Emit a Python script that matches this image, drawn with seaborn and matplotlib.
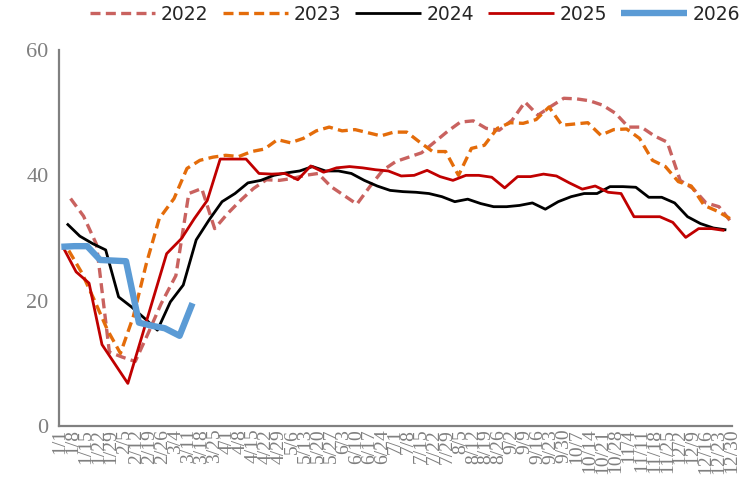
import matplotlib
matplotlib.use("Agg")
import matplotlib.pyplot as plt
import seaborn as sns
import pandas as pd

# Weekly (Friday) readings for each year
start_2022 = "2022-01-07"
vals_2022 = [36.3, 33.5, 29.0, 11.8, 11.0, 10.3, 14.8, 19.5, 24.0, 37.1, 37.9, 31.5,
             33.9, 36.0, 37.9, 39.3, 39.2, 39.5, 40.0, 40.3, 38.2, 36.8, 35.4, 38.2,
             40.8, 42.2, 42.9, 43.6, 45.3, 47.0, 48.5, 48.7, 47.5, 47.2, 48.8, 51.7,
             49.6, 51.0, 52.3, 52.2, 51.9, 51.2, 49.9, 47.7, 47.7, 46.3, 45.3, 39.2,
             37.9, 35.6, 35.0, 32.4]

start_2023 = "2023-01-06"
vals_2023 = [28.0, 24.5, 20.0, 15.3, 11.6, 17.5, 25.9, 33.1, 36.3, 41.1, 42.4, 42.9,
             43.2, 43.0, 43.8, 44.2, 45.7, 45.2, 45.9, 47.1, 47.7, 47.1, 47.3, 46.8,
             46.3, 46.9, 46.9, 45.3, 43.8, 43.8, 40.0, 44.3, 44.8, 47.5, 48.4, 48.3,
             48.9, 50.9, 48.0, 48.2, 48.4, 46.4, 47.3, 47.4, 45.9, 42.4, 41.4, 39.0,
             38.3, 35.2, 34.3, 33.1]

start_2024 = "2024-01-05"
vals_2024 = [32.3, 30.3, 29.1, 28.1, 20.6, 19.0, 17.2, 15.3, 19.8, 22.5, 29.7, 32.9,
             35.8, 37.1, 38.8, 39.2, 40.0, 40.4, 40.7, 41.4, 40.7, 40.7, 40.3, 39.2,
             38.3, 37.6, 37.4, 37.3, 37.1, 36.6, 35.8, 36.2, 35.5, 35.0, 35.0, 35.2,
             35.6, 34.6, 35.8, 36.6, 37.1, 37.1, 38.2, 38.2, 38.1, 36.5, 36.5, 35.6,
             33.4, 32.3, 31.6, 31.3]

start_2025 = "2025-01-03"
vals_2025 = [28.5, 24.6, 22.8, 13.0, 9.9, 6.8, 13.7, 20.6, 27.5, 29.9, 33.1, 36.0,
             42.6, 42.6, 42.6, 40.3, 40.2, 40.3, 39.3, 41.5, 40.5, 41.2, 41.4, 41.2,
             40.9, 40.7, 39.9, 40.0, 40.8, 39.8, 39.2, 40.0, 40.0, 39.7, 38.0, 39.8,
             39.8, 40.2, 39.9, 38.8, 37.8, 38.3, 37.3, 37.1, 33.4, 33.4, 33.4, 32.5,
             30.1, 31.5, 31.5, 31.2]

start_2026 = "2026-01-02"
vals_2026 = [28.6, 28.7, 28.7, 26.5, 26.4, 26.3, 16.5, 16.0, 15.6, 14.4, 19.6]

years = ["2022", "2023", "2024", "2025", "2026"]
starts = [start_2022, start_2023, start_2024, start_2025, start_2026]
values = [vals_2022, vals_2023, vals_2024, vals_2025, vals_2026]

colors = {"2022": "#C9625F", "2023": "#E46C0A", "2024": "#000000",
          "2025": "#C00000", "2026": "#5B9BD5"}
widths = {"2022": 2.4, "2023": 2.4, "2024": 2.0, "2025": 2.0, "2026": 4.6}
styles = {"2022": (0, (3.0, 1.6)), "2023": (0, (3.0, 1.6)), "2024": "-",
          "2025": "-", "2026": "-"}

# Common month/day axis (leap calendar so every date has a slot)
base = pd.Timestamp("2024-01-01")
frames = []
for yr, st, vals in zip(years, starts, values):
    dates = pd.date_range(st, periods=len(vals), freq="7D")
    day = [(pd.Timestamp(year=2024, month=d.month, day=d.day) - base).days for d in dates]
    frames.append(pd.DataFrame({"year": yr, "day": day, "value": vals}))
df = pd.concat(frames, ignore_index=True)

tick_days = list(range(0, 365, 7))
tick_labels = [f"{(base + pd.Timedelta(days=d)).month}/{(base + pd.Timedelta(days=d)).day}"
               for d in tick_days]

sns.set_style("white")
plt.rcParams["font.family"] = ["Liberation Serif", "DejaVu Serif"]

fig = plt.figure(figsize=(7.55, 4.88), dpi=100)
ax = fig.add_axes([0.0788, 0.127, 0.9694 - 0.0788, 0.8975 - 0.127])

for yr in years:
    sub = df[df["year"] == yr]
    sns.lineplot(data=sub, x="day", y="value", ax=ax, color=colors[yr],
                 linewidth=widths[yr], linestyle=styles[yr], label=yr,
                 legend=False, solid_joinstyle="round", solid_capstyle="butt")

ax.set_xlim(0, 364)
ax.set_ylim(0, 60)
ax.set_yticks([0, 20, 40, 60])
ax.set_xticks(tick_days)
ax.set_xticklabels(tick_labels, rotation=90, va="top", ha="center")
ax.set_xlabel("")
ax.set_ylabel("")

gray = "#808080"
for side in ["top", "right"]:
    ax.spines[side].set_visible(False)
for side in ["left", "bottom"]:
    ax.spines[side].set_color(gray)
    ax.spines[side].set_linewidth(1.6)
ax.tick_params(axis="both", direction="in", color=gray, width=1.3, length=4,
               labelcolor="#7F7F7F")
ax.tick_params(axis="y", labelsize=16, pad=8)
ax.tick_params(axis="x", labelsize=14, pad=2)

handles, labels = ax.get_legend_handles_labels()
fig.legend(handles, labels, loc="upper left", bbox_to_anchor=(0.119, 0.99),
           ncol=5, frameon=False, handlelength=3.5, handletextpad=0.3,
           columnspacing=0.75, borderpad=0, borderaxespad=0,
           prop={"family": "DejaVu Sans", "size": 13.5})

fig.savefig("out.png", dpi=100)
